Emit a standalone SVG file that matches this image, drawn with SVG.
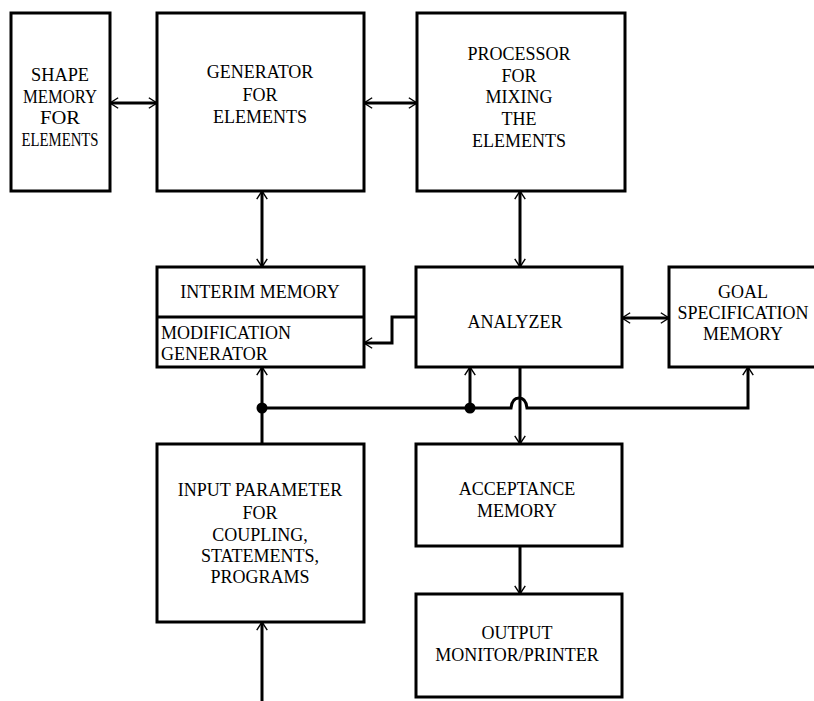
<svg xmlns="http://www.w3.org/2000/svg" width="814" height="701" viewBox="0 0 814 701">
<style>
.box{fill:#fff;stroke:#000;stroke-width:3}
.ln{fill:none;stroke:#000;stroke-width:3}
text{font-family:'Liberation Serif',serif;font-size:18px;fill:#000;text-anchor:middle}
.l{text-anchor:start}
</style>
<defs>
<marker id="ah" markerUnits="userSpaceOnUse" markerWidth="14" markerHeight="14" refX="10" refY="6" orient="auto-start-reverse" viewBox="0 0 12 12">
<path d="M3,1.5 L10,6 L3,10.5" fill="none" stroke="#000" stroke-width="1.2"/>
</marker>
</defs>
<rect width="814" height="701" fill="#fff"/>
<g id="connectors">
<line class="ln" x1="110" y1="103" x2="157" y2="103" marker-start="url(#ah)" marker-end="url(#ah)"/>
<line class="ln" x1="364" y1="103" x2="417" y2="103" marker-start="url(#ah)" marker-end="url(#ah)"/>
<line class="ln" x1="262" y1="191" x2="262" y2="267" marker-start="url(#ah)" marker-end="url(#ah)"/>
<line class="ln" x1="520" y1="191" x2="520" y2="267" marker-start="url(#ah)" marker-end="url(#ah)"/>
<line class="ln" x1="622" y1="318" x2="669" y2="318" marker-start="url(#ah)" marker-end="url(#ah)"/>
<polyline class="ln" points="416,317 392,317 392,343 364,343" marker-end="url(#ah)"/>
<line class="ln" x1="262" y1="408" x2="262" y2="367" marker-end="url(#ah)"/>
<line class="ln" x1="262" y1="408" x2="262" y2="444"/>
<line class="ln" x1="470" y1="408" x2="470" y2="367" marker-end="url(#ah)"/>
<path class="ln" d="M262,408 H511 Q512,398 519,398 Q526,398 527,408 H748 V367" marker-end="url(#ah)"/>
<line class="ln" x1="520" y1="367" x2="520" y2="444" marker-end="url(#ah)"/>
<line class="ln" x1="520" y1="546" x2="520" y2="594" marker-end="url(#ah)"/>
<line class="ln" x1="262" y1="701" x2="262" y2="622" marker-end="url(#ah)"/>
<circle cx="262" cy="408" r="5.5" fill="#000"/>
<circle cx="470" cy="408" r="5.5" fill="#000"/>
</g>
<g id="shape-memory">
<rect class="box" x="11" y="13" width="99" height="178"/>
<text x="60" y="81" textLength="58" lengthAdjust="spacingAndGlyphs">SHAPE</text>
<text x="60" y="103" textLength="74" lengthAdjust="spacingAndGlyphs">MEMORY</text>
<text x="60" y="124" textLength="40" lengthAdjust="spacingAndGlyphs">FOR</text>
<text x="60" y="146" textLength="77" lengthAdjust="spacingAndGlyphs">ELEMENTS</text>
</g>
<g id="generator">
<rect class="box" x="157" y="13" width="207" height="178"/>
<text x="260" y="78">GENERATOR</text>
<text x="260" y="101">FOR</text>
<text x="260" y="123">ELEMENTS</text>
</g>
<g id="processor">
<rect class="box" x="417" y="13" width="208" height="178"/>
<text x="519" y="60">PROCESSOR</text>
<text x="519" y="82">FOR</text>
<text x="519" y="103">MIXING</text>
<text x="519" y="125">THE</text>
<text x="519" y="147">ELEMENTS</text>
</g>
<g id="interim-memory">
<rect class="box" x="157" y="267" width="207" height="100"/>
<line class="ln" x1="157" y1="317" x2="364" y2="317"/>
<text x="260" y="298">INTERIM MEMORY</text>
<text class="l" x="161" y="339">MODIFICATION</text>
<text class="l" x="161" y="360">GENERATOR</text>
</g>
<g id="analyzer">
<rect class="box" x="416" y="267" width="206" height="100"/>
<text x="515" y="328">ANALYZER</text>
</g>
<g id="goal-memory">
<rect class="box" x="669" y="267" width="148" height="100"/>
<text x="743" y="298">GOAL</text>
<text x="743" y="319">SPECIFICATION</text>
<text x="743" y="340">MEMORY</text>
</g>
<g id="input-parameter">
<rect class="box" x="157" y="444" width="207" height="178"/>
<text x="260" y="496">INPUT PARAMETER</text>
<text x="260" y="519">FOR</text>
<text x="260" y="541">COUPLING,</text>
<text x="260" y="562">STATEMENTS,</text>
<text x="260" y="583">PROGRAMS</text>
</g>
<g id="acceptance-memory">
<rect class="box" x="416" y="444" width="206" height="102"/>
<text x="517" y="495">ACCEPTANCE</text>
<text x="517" y="517">MEMORY</text>
</g>
<g id="output">
<rect class="box" x="416" y="594" width="206" height="103"/>
<text x="517" y="639">OUTPUT</text>
<text x="517" y="661">MONITOR/PRINTER</text>
</g>
</svg>
